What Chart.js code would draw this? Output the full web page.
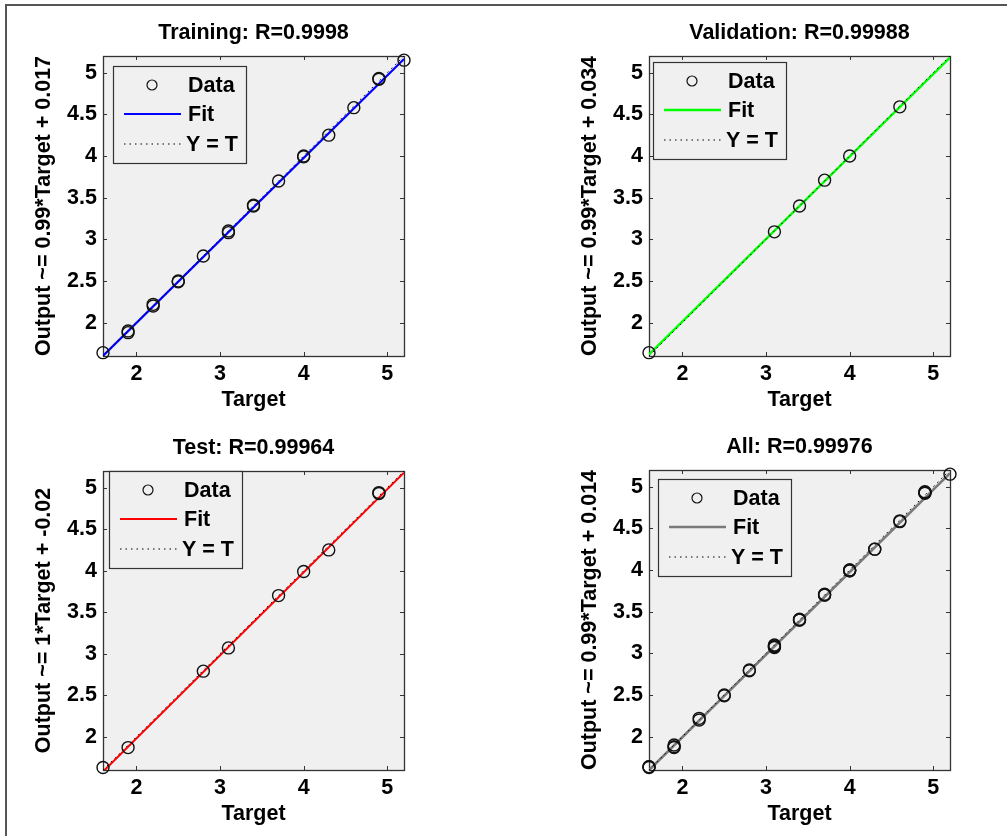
<!DOCTYPE html>
<html>
<head>
<meta charset="utf-8">
<title>Regression plots</title>
<script src="https://cdn.jsdelivr.net/npm/chart.js@4.4.0/dist/chart.umd.min.js"></script>
<style>
html, body { margin:0; padding:0; background:#fff; overflow:hidden; width:1007px; height:836px; }
#frame { position:absolute; left:5px; top:4px; width:1010px; height:840px; border-top:2px solid #555; border-left:2px solid #555; }
canvas { position:absolute; }
</style>
</head>
<body>
<div id="frame"></div>
<canvas id="c1"></canvas>
<canvas id="c2"></canvas>
<canvas id="c3"></canvas>
<canvas id="c4"></canvas>
<script>
// -------------------------------------------
//  DATA (targets / outputs)
// -------------------------------------------

const trainT = [1.6, 1.9, 1.9, 2.2, 2.2, 2.5, 2.5, 2.8, 3.1, 3.1, 3.4, 3.4, 3.7, 4.0, 4.0, 4.3, 4.6, 4.9, 4.9, 5.2]
const trainY = [1.64, 1.88, 1.90, 2.20, 2.22, 2.49, 2.50, 2.80, 3.08, 3.10, 3.40, 3.41, 3.70, 3.99, 4.00, 4.25, 4.58, 4.92, 4.93, 5.15]

const valT = [1.6, 3.1, 3.4, 3.7, 4.0, 4.6]
const valY = [1.64, 3.09, 3.40, 3.71, 4.00, 4.59]

const testT = [1.6, 1.9, 2.8, 3.1, 3.7, 4.0, 4.3, 4.9, 4.9]
const testY = [1.63, 1.87, 2.79, 3.07, 3.70, 3.99, 4.25, 4.93, 4.94]

const allT = trainT.concat(valT, testT)
const allY = trainY.concat(valY, testY)

// fit lines: output at the two ends of the target range
const fitX = [1.6, 5.2]
const fitTrain = [1.601, 5.165]
const fitVal = [1.618, 5.182]
const fitTest = [1.58, 5.18]
const fitAll = [1.598, 5.162]
const identY = [1.6, 5.2]

const xTicks = [2, 3, 4, 5]
const yTicks = [2, 2.5, 3, 3.5, 4, 4.5, 5]
const axisMin = 1.6
const axisMax = 5.2

const titles = ['Training: R=0.9998', 'Validation: R=0.99988', 'Test: R=0.99964', 'All: R=0.99976']
const yLabels = ['Output ~= 0.99*Target + 0.017', 'Output ~= 0.99*Target + 0.034', 'Output ~= 1*Target + -0.02', 'Output ~= 0.99*Target + 0.014']
const legendLabels = ['Data', 'Fit', 'Y = T']

// -------------------------------------------
//  LAYOUT
// -------------------------------------------

const FONT = "'Liberation Sans', Arial, Helvetica, sans-serif"
const FS = 21.5
const AX = 100    // y axis room (left), mirrored on the right to keep title centred
const TOP = 46    // title block height
const BOT = 56    // x axis block height

Chart.defaults.font.family = FONT
Chart.defaults.color = '#000'

const panels = [
    { id: 'c1', left: 103, top: 56, w: 301, h: 300, t: trainT, y: trainY, fit: fitTrain, color: '#0000ff', lw: 2.2, leg: [10, 10] },
    { id: 'c2', left: 649, top: 56, w: 301, h: 300, t: valT, y: valY, fit: fitVal, color: '#00ff00', lw: 2.4, leg: [4, 6] },
    { id: 'c3', left: 103, top: 471, w: 301, h: 299, t: testT, y: testY, fit: fitTest, color: '#ff0000', lw: 2, leg: [6, 0] },
    { id: 'c4', left: 649, top: 470, w: 301, h: 300, t: allT, y: allY, fit: fitAll, color: '#7a7a7a', lw: 2.6, leg: [9, 9] }
]

function pts(xs, ys) {
    return xs.map(function(v, i) { return { x: v, y: ys[i] } })
}

// -------------------------------------------
//  PLUGIN: grey axes box, inner ticks, legend
// -------------------------------------------

const matlabLook = {
    id: 'matlabLook',
    beforeDatasetsDraw(chart) {
        const a = chart.chartArea, ctx = chart.ctx
        const xs = chart.scales.x, ys = chart.scales.y
        ctx.save()
        ctx.fillStyle = '#f0f0f0'
        ctx.fillRect(a.left, a.top, a.right - a.left, a.bottom - a.top)
        ctx.strokeStyle = '#333'
        ctx.lineWidth = 1
        ctx.beginPath()
        xTicks.forEach(function(v) {
            const p = Math.round(xs.getPixelForValue(v)) + 0.5
            ctx.moveTo(p, a.bottom); ctx.lineTo(p, a.bottom - 4)
            ctx.moveTo(p, a.top); ctx.lineTo(p, a.top + 4)
        })
        yTicks.forEach(function(v) {
            const p = Math.round(ys.getPixelForValue(v)) + 0.5
            ctx.moveTo(a.left, p); ctx.lineTo(a.left + 4, p)
            ctx.moveTo(a.right, p); ctx.lineTo(a.right - 4, p)
        })
        ctx.stroke()
        ctx.lineWidth = 1.3
        ctx.strokeRect(Math.round(a.left) + 0.5, Math.round(a.top) + 0.5, Math.round(a.right - a.left), Math.round(a.bottom - a.top))
        ctx.restore()
    },
    afterDatasetsDraw(chart, args, opts) {
        const a = chart.chartArea, ctx = chart.ctx
        const ds = chart.data.datasets
        const x0 = Math.round(a.left + opts.pos[0]), y0 = Math.round(a.top + opts.pos[1])
        const rows = [19, 48, 78]
        ctx.save()
        ctx.fillStyle = '#f0f0f0'
        ctx.fillRect(x0, y0, 133, 97)
        ctx.strokeStyle = '#333'
        ctx.lineWidth = 1.2
        ctx.strokeRect(x0 + 0.5, y0 + 0.5, 133, 97)
        ctx.font = 'bold ' + FS + 'px ' + FONT
        ctx.textBaseline = 'middle'
        ctx.textAlign = 'left'
        ds.forEach(function(d, i) {
            const yy = y0 + rows[i]
            ctx.save()
            if (d.showLine) {
                ctx.setLineDash(d.borderDash || [])
                ctx.strokeStyle = d.borderColor
                ctx.lineWidth = d.borderWidth
                ctx.beginPath()
                ctx.moveTo(x0 + 11, yy); ctx.lineTo(x0 + 68, yy)
                ctx.stroke()
            } else {
                ctx.strokeStyle = d.borderColor
                ctx.lineWidth = 1.2
                ctx.beginPath()
                ctx.arc(x0 + 39, yy, 5, 0, Math.PI * 2)
                ctx.stroke()
            }
            ctx.restore()
            ctx.fillStyle = '#000'
            ctx.fillText(d.label, x0 + (i === 2 ? 73 : 75), yy + 1)
        })
        ctx.restore()
    }
}

// -------------------------------------------
//  CHARTS
// -------------------------------------------

function makeChart(p, i) {
    const cv = document.getElementById(p.id)
    cv.width = p.w + AX * 2
    cv.height = p.h + TOP + BOT
    cv.style.left = (p.left - AX) + 'px'
    cv.style.top = (p.top - TOP) + 'px'

    const tickFont = { size: FS, weight: 'bold', lineHeight: 1 }

    return new Chart(cv, {
        type: 'scatter',
        data: {
            datasets: [
                { label: legendLabels[0], data: pts(p.t, p.y), pointRadius: 6, pointStyle: 'circle',
                  borderColor: '#111', backgroundColor: 'rgba(0,0,0,0)', borderWidth: 1.4, clip: false, order: 0 },
                { label: legendLabels[1], data: pts(fitX, p.fit), showLine: true, pointRadius: 0,
                  borderColor: p.color, borderWidth: p.lw, order: 2 },
                { label: legendLabels[2], data: pts(fitX, identY), showLine: true, pointRadius: 0,
                  borderColor: '#000', borderWidth: 1, borderDash: [1.5, 4], order: 1 }
            ]
        },
        options: {
            responsive: false,
            animation: false,
            events: [],
            layout: { padding: 0 },
            scales: {
                x: {
                    type: 'linear', min: axisMin, max: axisMax,
                    afterBuildTicks: function(s) { s.ticks = xTicks.map(function(v) { return { value: v } }) },
                    afterFit: function(s) { s.height = BOT },
                    ticks: { font: tickFont, padding: 7, color: '#000', callback: function(v) { return String(v) } },
                    grid: { display: false, drawTicks: false },
                    border: { display: false },
                    title: { display: true, text: 'Target', font: tickFont, color: '#000', padding: { top: 0, bottom: 1 } }
                },
                y: {
                    type: 'linear', min: axisMin, max: axisMax,
                    afterBuildTicks: function(s) { s.ticks = yTicks.map(function(v) { return { value: v } }) },
                    afterFit: function(s) { s.width = AX },
                    ticks: { font: tickFont, padding: 6, color: '#000', callback: function(v) { return String(v) } },
                    grid: { display: false, drawTicks: false },
                    border: { display: false },
                    title: { display: true, text: yLabels[i], font: tickFont, color: '#000', padding: { top: 30.5, bottom: 0 } }
                },
                yr: {
                    type: 'linear', position: 'right', display: true,
                    afterFit: function(s) { s.width = AX },
                    ticks: { display: false },
                    grid: { display: false, drawTicks: false },
                    border: { display: false }
                }
            },
            plugins: {
                legend: { display: false },
                tooltip: { enabled: false },
                title: { display: true, text: titles[i], color: '#000', font: tickFont, padding: { top: 12.25, bottom: 12.25 } },
                matlabLook: { pos: p.leg }
            }
        },
        plugins: [matlabLook]
    })
}

document.addEventListener('DOMContentLoaded', function() {
    panels.forEach(makeChart)
})
</script>
</body>
</html>
